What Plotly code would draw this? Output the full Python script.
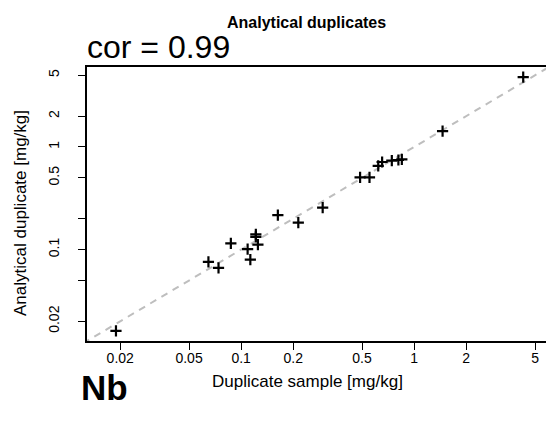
import plotly.graph_objects as go

# Data (mg/kg)
duplicate_sample = [0.0189, 0.0647, 0.074, 0.0872, 0.109, 0.113, 0.1216, 0.1216, 0.125,
                    0.163, 0.214, 0.296, 0.487, 0.552, 0.62, 0.653, 0.743, 0.811, 0.849,
                    1.46, 4.27]
analytical_duplicate = [0.0161, 0.076, 0.0664, 0.115, 0.101, 0.080, 0.1407, 0.133, 0.112,
                        0.217, 0.183, 0.256, 0.506, 0.506, 0.653, 0.714, 0.735, 0.747, 0.758,
                        1.43, 4.8]
tick_vals = [0.02, 0.05, 0.1, 0.2, 0.5, 1, 2, 5]
x_tick_text = ["0.02", "0.05", "0.1", "0.2", "0.5", "1", "2", "5"]
y_tick_text = ["0.02", "", "0.1", "", "0.5", "1", "2", "5"]
identity_line = [0.005, 20]

W, H = 546, 421
ML, MR, MT, MB = 87, 0, 67, 80
FONT = "Liberation Sans, Arial, sans-serif"

fig = go.Figure()
fig.add_trace(go.Scatter(
    x=identity_line, y=identity_line, mode="lines",
    line=dict(color="#bebebe", width=2, dash="7px,6px"),
    hoverinfo="skip", showlegend=False))
fig.add_trace(go.Scatter(
    x=duplicate_sample, y=analytical_duplicate, mode="markers",
    marker=dict(symbol="cross-thin", size=8, line=dict(color="black", width=2.2)),
    showlegend=False))

pw = W - ML - MR
ph = H - MT - MB
lo = -1.891
x_hi = lo + pw / 173.0
y_hi = lo + ph / 102.6

axis_common = dict(
    type="log", showgrid=False, zeroline=False, showline=True, linecolor="black",
    linewidth=1.5, ticks="outside", ticklen=7, tickwidth=1.2, tickcolor="black",
    tickvals=tick_vals, tickfont=dict(family=FONT, size=14, color="black"),
    automargin=False,
)
fig.update_xaxes(range=[lo, x_hi], ticktext=x_tick_text, mirror=True,
                 ticklabelstandoff=-4, **axis_common)
fig.update_yaxes(range=[lo, y_hi], ticktext=y_tick_text, tickangle=-90,
                 ticklabelstandoff=14, **axis_common)

def px(x):
    return (x - ML) / pw

def py(y):
    return (H - MB - y) / ph

annotations = [
    dict(text="<b>Analytical duplicates</b>", x=px(306), y=py(22), font=dict(size=16)),
    dict(text="cor = 0.99", x=px(85), y=py(67), xanchor="left", yanchor="bottom",
         font=dict(size=32)),
    dict(text="Duplicate sample [mg/kg]", x=px(307), y=py(381), font=dict(size=17)),
    dict(text="Analytical duplicate [mg/kg]", x=px(20), y=py(213), textangle=-90,
         font=dict(size=17)),
    dict(text="<b>Nb</b>", x=px(79), y=py(409), xanchor="left", yanchor="bottom",
         font=dict(size=35)),
]
for a in annotations:
    a.setdefault("xanchor", "center")
    a.setdefault("yanchor", "middle")
    a["font"].update(family=FONT, color="black")
    fig.add_annotation(xref="paper", yref="paper", showarrow=False, **a)

fig.update_layout(
    width=W, height=H, margin=dict(l=ML, r=MR, t=MT, b=MB, autoexpand=False),
    paper_bgcolor="white", plot_bgcolor="white",
)
fig.write_html("out.html", config={"displayModeBar": False},
               post_script="document.body.style.margin='0';document.body.style.padding='0';")
